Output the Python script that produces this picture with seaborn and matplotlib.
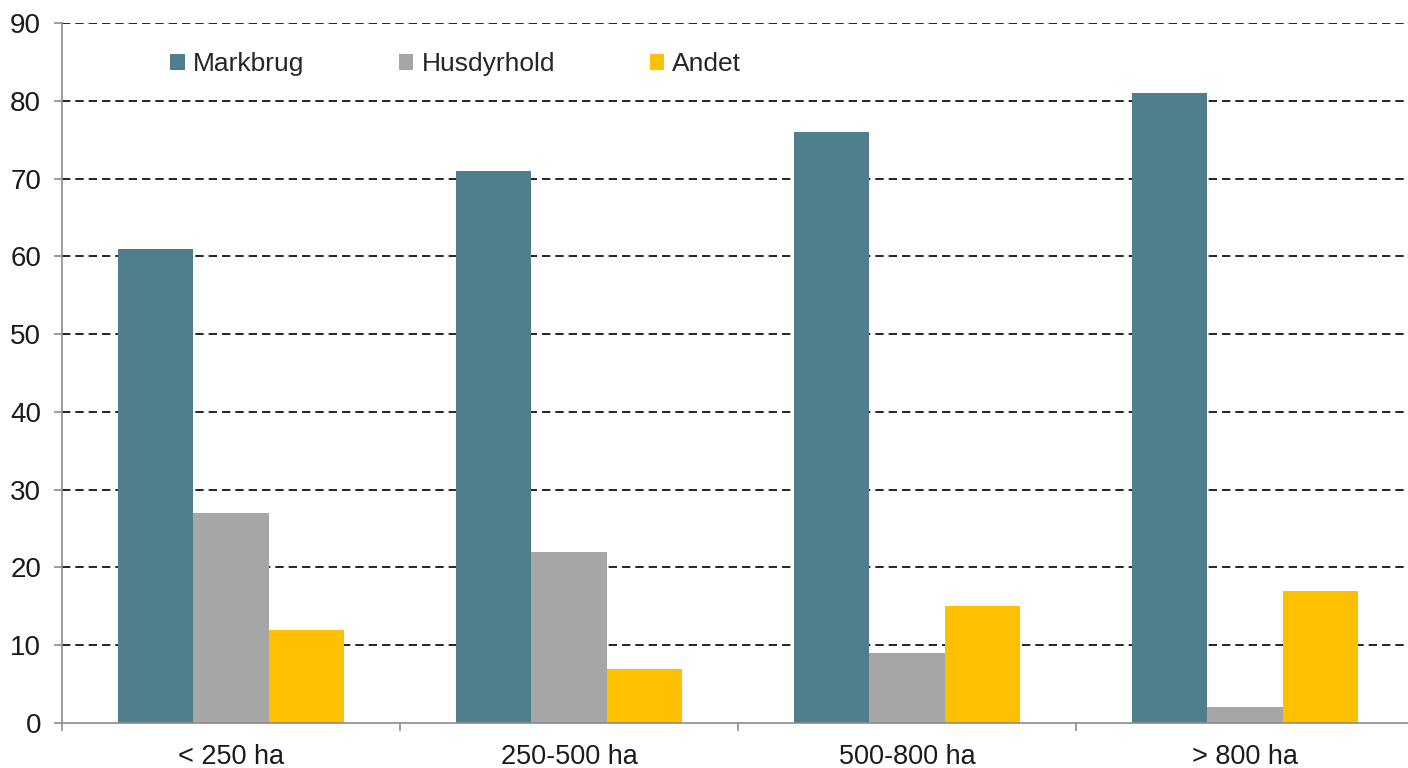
import numpy as np
import matplotlib
matplotlib.use("Agg")
import matplotlib.pyplot as plt
import seaborn as sns
import pandas as pd
from matplotlib.ticker import FixedLocator

categories = ['< 250 ha', '250-500 ha', '500-800 ha', '> 800 ha']
series = ['Markbrug', 'Husdyrhold', 'Andet']
markbrug = [61, 71, 76, 81]
husdyrhold = [27, 22, 9, 2]
andet = [12, 7, 15, 17]
colors = ['#4f7f8c', '#a6a6a6', '#ffc000']

rows = []
for name, vals in zip(series, [markbrug, husdyrhold, andet]):
    for c, v in zip(categories, vals):
        rows.append({'cat': c, 'serie': name, 'val': v})
df = pd.DataFrame(rows)

sns.set_style('white')
plt.rcParams['font.family'] = ['Liberation Sans', 'DejaVu Sans']

fig = plt.figure(figsize=(14.08, 7.68), dpi=100)
ax = fig.add_axes([62 / 1408, 1 - 723 / 768, 1352 / 1408, 700 / 768])

ax.set_axisbelow(True)
ax.yaxis.grid(True, color='black', linestyle=(0, (5, 3)), linewidth=1.2)
sns.barplot(data=df, x='cat', y='val', hue='serie', palette=colors,
            saturation=1, width=0.667, gap=0, linewidth=0, ax=ax, legend=True)

ax.set_xlim(-0.5, 3.5)
ax.set_ylim(0, 90)
ax.set_yticks(np.arange(0, 91, 10))
ax.set_xlabel('')
ax.set_ylabel('')
ax.yaxis.get_gridlines()[0].set_visible(False)

for s in ['top', 'right']:
    ax.spines[s].set_visible(False)
for s in ['left', 'bottom']:
    ax.spines[s].set_color('#8c8c8c')
    ax.spines[s].set_linewidth(1.2)

ax.tick_params(axis='y', which='major', length=6, width=1.2, color='#8c8c8c',
               labelsize=20, pad=9, labelcolor='#1a1a1a', left=True)
ax.tick_params(axis='x', which='major', length=0, labelsize=19.5, pad=15,
               labelcolor='#1a1a1a')
ax.xaxis.set_minor_locator(FixedLocator([-0.5, 0.5, 1.5, 2.5, 3.5]))
ax.tick_params(axis='x', which='minor', length=6, width=1.2, color='#8c8c8c',
               bottom=True)

ax.legend(loc='center left', bbox_to_anchor=(0.080, 0.941), ncol=3,
          frameon=False, fontsize=19, handlelength=0.55, handleheight=0.55,
          handletextpad=0.3, columnspacing=3.6, borderpad=0, borderaxespad=0)

fig.savefig('out.png', dpi=100)
